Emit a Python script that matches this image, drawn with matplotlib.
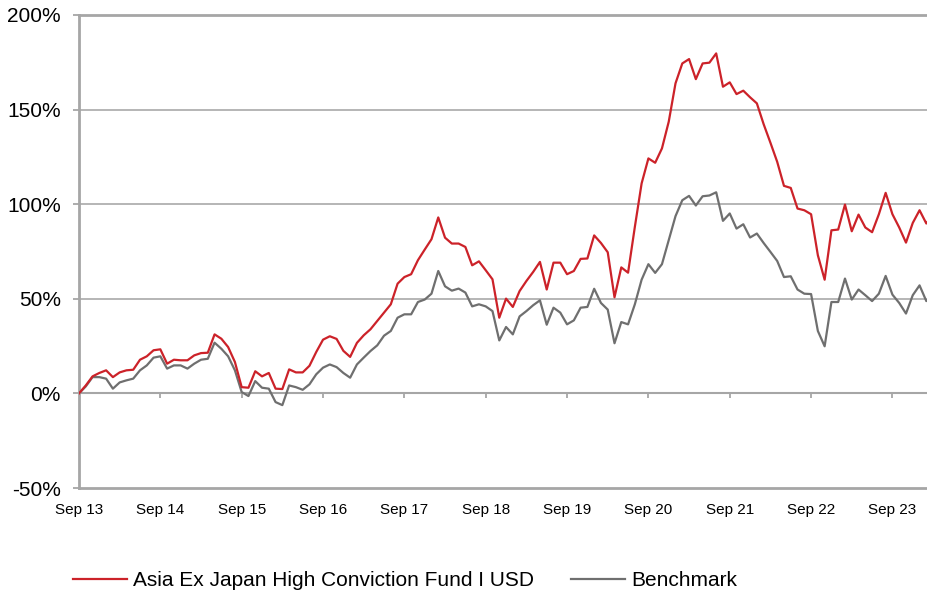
import matplotlib
matplotlib.use("Agg")
import matplotlib.pyplot as plt
import numpy as np

plt.rcParams['font.family'] = ['Liberation Sans', 'DejaVu Sans']

# Monthly cumulative performance (%) starting Sep 2013
fund = [0, 4.2, 9.0, 10.8, 12.2, 8.6, 11.1, 12.2, 12.5, 17.8,
        19.6, 22.8, 23.3, 15.7, 17.8, 17.5, 17.5, 20.1, 21.3, 21.5,
        31.2, 28.9, 24.5, 16.6, 3.3, 3.0, 11.7, 9.0, 10.8, 2.5,
        2.3, 12.7, 11.1, 11.1, 14.6, 21.9, 28.4, 30.2, 28.8, 22.5,
        19.3, 26.7, 30.7, 33.9, 38.3, 42.7, 47.1, 58.0, 61.5, 63.0,
        70.4, 76.0, 81.5, 93.0, 82.3, 79.2, 79.2, 77.4, 67.7, 69.8,
        65.1, 60.3, 40.0, 50.1, 45.7, 54.1, 59.4, 64.2, 69.5, 54.9,
        69.1, 69.1, 63.0, 64.7, 71.1, 71.3, 83.5, 79.5, 74.6, 50.8,
        66.6, 63.8, 88.0, 111.0, 124.2, 121.9, 129.5, 143.6, 163.9, 174.4,
        176.7, 166.1, 174.4, 174.8, 179.7, 162.1, 164.4, 158.2, 160.0, 156.5,
        153.3, 142.3, 132.5, 122.4, 109.7, 108.6, 97.7, 96.8, 94.7, 73.0,
        60.1, 86.2, 86.6, 99.8, 85.7, 94.5, 87.7, 85.2, 94.7, 106.0,
        94.7, 87.7, 79.7, 90.1, 96.8, 89.8, 95.0]

benchmark = [0, 3.7, 8.6, 8.6, 7.8, 2.5, 5.8, 6.9, 7.8, 12.2,
             14.8, 18.9, 19.6, 13.1, 14.8, 14.8, 13.1, 15.7, 17.8, 18.3,
             26.8, 23.6, 19.6, 12.2, 0.7, -1.4, 6.5, 3.0, 2.5, -4.6,
             -6.2, 4.2, 3.3, 1.9, 4.8, 10.1, 13.6, 15.3, 13.9, 10.8,
             8.3, 15.3, 18.9, 22.4, 25.4, 30.5, 33.0, 40.0, 41.8, 41.8,
             48.3, 49.6, 52.7, 64.7, 56.6, 54.3, 55.4, 53.3, 46.0, 47.1,
             46.0, 43.5, 28.0, 35.1, 31.2, 40.7, 43.5, 46.6, 49.2, 36.3,
             45.3, 42.7, 36.5, 38.6, 45.3, 45.7, 55.3, 47.8, 44.3, 26.5,
             37.7, 36.5, 47.1, 60.1, 68.3, 63.7, 68.3, 81.0, 93.7, 102.1,
             104.4, 99.3, 104.2, 104.6, 106.3, 91.2, 95.1, 87.1, 89.4, 82.4,
             84.5, 79.5, 74.8, 70.0, 61.5, 61.9, 54.9, 52.7, 52.5, 33.0,
             24.9, 48.3, 48.3, 60.7, 49.6, 54.9, 51.9, 48.8, 52.7, 62.1,
             52.2, 47.8, 42.2, 51.9, 57.1, 48.8, 52.0]

tick_labels = ["Sep 13", "Sep 14", "Sep 15", "Sep 16", "Sep 17", "Sep 18",
               "Sep 19", "Sep 20", "Sep 21", "Sep 22", "Sep 23"]
y_ticks = [-50, 0, 50, 100, 150, 200]
y_labels = ["-50%", "0%", "50%", "100%", "150%", "200%"]

fund_name = "Asia Ex Japan High Conviction Fund I USD"
bench_name = "Benchmark"

RED = "#cc2229"
GREY = "#6f6f6f"
FRAME = "#a6a6a6"
GRID = "#b5b5b5"

W, H = 927, 592
fig = plt.figure(figsize=(W / 100, H / 100), dpi=100)
ax = fig.add_axes([79 / W, (H - 488) / H, (W - 79) / W, (488 - 15) / H])

months = np.arange(len(fund))
x_ticks = np.arange(len(tick_labels)) * 12

for yv in [50, 100, 150]:
    ax.axhline(yv, color=GRID, lw=1.4, zorder=1)
# zero axis line with its tick marks
ax.axhline(0, color=FRAME, lw=1.5, zorder=1)
ax.vlines(x_ticks, -2.3, 0, color=FRAME, lw=1.3, zorder=1)

ax.plot(months, fund, color=RED, lw=1.6, zorder=3, label=fund_name)
ax.plot(months, benchmark, color=GREY, lw=1.6, zorder=2, label=bench_name)

ax.set_xlim(0, 125.1)
ax.set_ylim(-50, 200)

ax.set_xticks(x_ticks)
ax.set_xticklabels(tick_labels, fontsize=11)
ax.tick_params(axis='x', length=0, pad=11)

ax.set_yticks(y_ticks)
ax.set_yticklabels(y_labels, fontsize=15)
ax.tick_params(axis='y', length=4, width=1.3, color=FRAME, pad=9)

for s in ['left', 'bottom', 'top']:
    ax.spines[s].set_color(FRAME)
    ax.spines[s].set_linewidth(2)
ax.spines['right'].set_visible(False)

fig.legend(loc='center', bbox_to_anchor=(405 / W, 1 - 581 / H), ncol=2,
           frameon=False, fontsize=15, handlelength=2.6, handletextpad=0.3,
           columnspacing=1.75, borderaxespad=0)

fig.savefig("out.png", dpi=100)
